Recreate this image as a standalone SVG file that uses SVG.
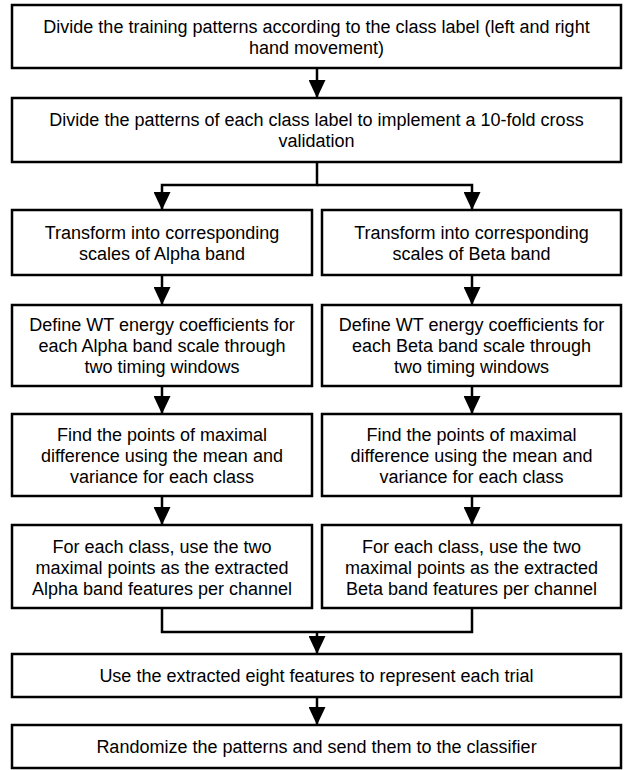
<svg xmlns="http://www.w3.org/2000/svg" width="626" height="770" viewBox="0 0 626 770">
<style>
.box{fill:#fff;stroke:#000;stroke-width:2.5}
.t{font-family:"Liberation Sans",Arial,sans-serif;font-size:18px;fill:#000;text-anchor:middle}
.c{fill:none;stroke:#000;stroke-width:2.5}
</style>
<defs>
<marker id="ah" markerUnits="userSpaceOnUse" markerWidth="18" markerHeight="17" refX="18" refY="8.5" orient="auto" viewBox="0 0 18 17">
<path d="M0,0 L18,8.5 L0,17 Z" fill="#000"/>
</marker>
</defs>
<rect width="626" height="770" fill="#fff"/>
<g id="connectors">
<path class="c" d="M317,68 V98" marker-end="url(#ah)"/>
<path class="c" d="M317,162 V185 H162 V210" marker-end="url(#ah)"/>
<path class="c" d="M317,185 H472 V210" marker-end="url(#ah)"/>
<path class="c" d="M162,275 V305" marker-end="url(#ah)"/>
<path class="c" d="M472,275 V305" marker-end="url(#ah)"/>
<path class="c" d="M162,386 V414" marker-end="url(#ah)"/>
<path class="c" d="M472,386 V414" marker-end="url(#ah)"/>
<path class="c" d="M162,496 V525" marker-end="url(#ah)"/>
<path class="c" d="M472,496 V525" marker-end="url(#ah)"/>
<path class="c" d="M162,608 V632 H472 V608"/>
<path class="c" d="M317,632 V654" marker-end="url(#ah)"/>
<path class="c" d="M317,697 V725" marker-end="url(#ah)"/>
</g>
<g id="n1"><rect class="box" x="12" y="5" width="609" height="63"/>
<text class="t" x="316.5" y="32.5">Divide the training patterns according to the class label (left and right</text>
<text class="t" x="316.5" y="53.5">hand movement)</text></g>
<g id="n2"><rect class="box" x="12" y="98" width="609" height="64"/>
<text class="t" x="316.5" y="126">Divide the patterns of each class label to implement a 10-fold cross</text>
<text class="t" x="316.5" y="147">validation</text></g>
<g id="n3"><rect class="box" x="12" y="210" width="300" height="65"/>
<text class="t" x="162" y="239">Transform into corresponding</text>
<text class="t" x="162" y="260">scales of Alpha band</text></g>
<g id="n4"><rect class="box" x="322" y="210" width="299" height="65"/>
<text class="t" x="471.5" y="239">Transform into corresponding</text>
<text class="t" x="471.5" y="260">scales of Beta band</text></g>
<g id="n5"><rect class="box" x="12" y="305" width="300" height="81"/>
<text class="t" x="162" y="331">Define WT energy coefficients for</text>
<text class="t" x="162" y="352">each Alpha band scale through</text>
<text class="t" x="162" y="373">two timing windows</text></g>
<g id="n6"><rect class="box" x="322" y="305" width="299" height="81"/>
<text class="t" x="471.5" y="331">Define WT energy coefficients for</text>
<text class="t" x="471.5" y="352">each Beta band scale through</text>
<text class="t" x="471.5" y="373">two timing windows</text></g>
<g id="n7"><rect class="box" x="12" y="414" width="300" height="82"/>
<text class="t" x="162" y="441">Find the points of maximal</text>
<text class="t" x="162" y="462">difference using the mean and</text>
<text class="t" x="162" y="483">variance for each class</text></g>
<g id="n8"><rect class="box" x="322" y="414" width="299" height="82"/>
<text class="t" x="471.5" y="441">Find the points of maximal</text>
<text class="t" x="471.5" y="462">difference using the mean and</text>
<text class="t" x="471.5" y="483">variance for each class</text></g>
<g id="n9"><rect class="box" x="12" y="525" width="300" height="83"/>
<text class="t" x="162" y="553">For each class, use the two</text>
<text class="t" x="162" y="574">maximal points as the extracted</text>
<text class="t" x="162" y="595">Alpha band features per channel</text></g>
<g id="n10"><rect class="box" x="322" y="525" width="299" height="83"/>
<text class="t" x="471.5" y="553">For each class, use the two</text>
<text class="t" x="471.5" y="574">maximal points as the extracted</text>
<text class="t" x="471.5" y="595">Beta band features per channel</text></g>
<g id="n11"><rect class="box" x="12" y="654" width="609" height="43"/>
<text class="t" x="316.5" y="681.5">Use the extracted eight features to represent each trial</text></g>
<g id="n12"><rect class="box" x="12" y="725" width="609" height="43"/>
<text class="t" x="316.5" y="753">Randomize the patterns and send them to the classifier</text></g>
</svg>
